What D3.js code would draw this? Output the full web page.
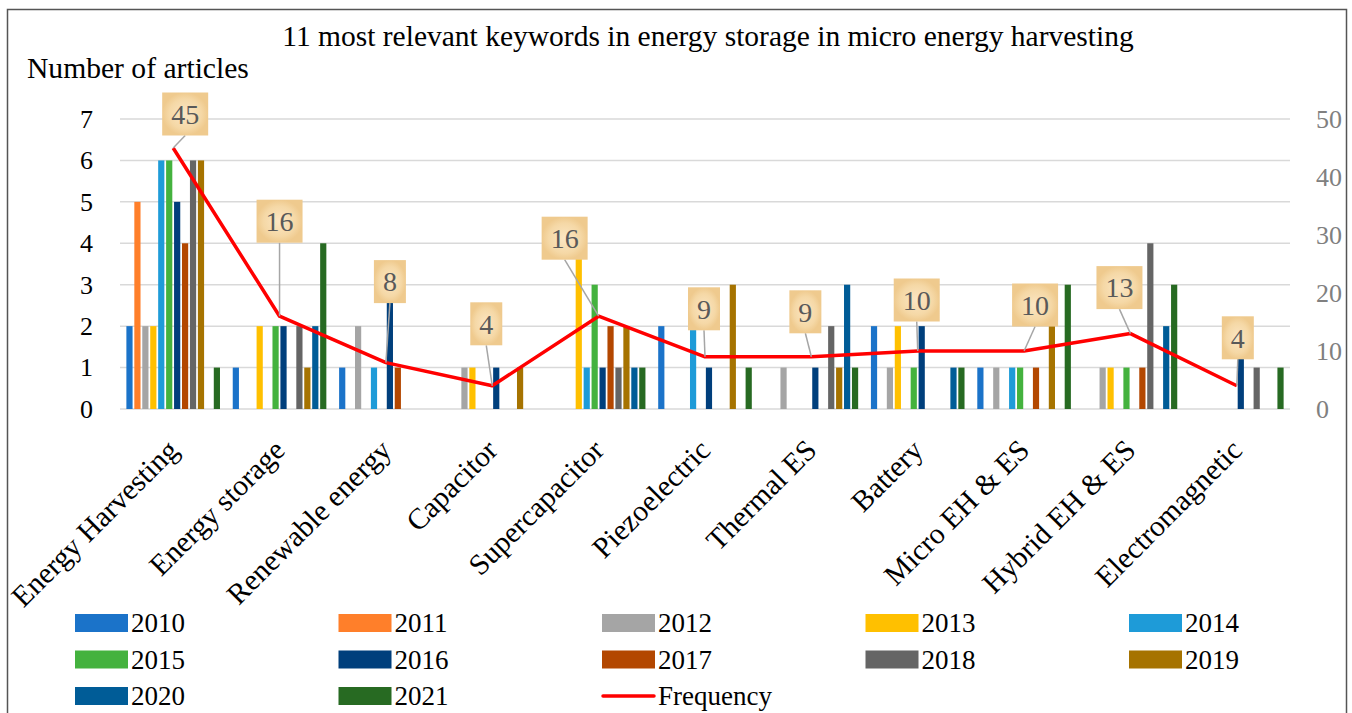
<!DOCTYPE html>
<html>
<head>
<meta charset="utf-8">
<script src="https://cdn.jsdelivr.net/npm/d3@7/dist/d3.min.js"></script>
<style>
  html, body { margin: 0; padding: 0; background: #fff; }
  svg { display: block; }
  text { font-family: "Liberation Serif", "Times New Roman", serif; }
</style>
</head>
<body>
<div id="chart"></div>
<script>
// categories and series
var keywords = ['Energy Harvesting', 'Energy storage', 'Renewable energy', 'Capacitor', 'Supercapacitor',
  'Piezoelectric', 'Thermal ES', 'Battery', 'Micro EH & ES', 'Hybrid EH & ES', 'Electromagnetic'];
var years = ['2010', '2011', '2012', '2013', '2014', '2015', '2016', '2017', '2018', '2019', '2020', '2021'];

// articles per year, one row per keyword (2010 .. 2021)
var articles = [
  [2, 5, 2, 2, 6, 6, 5, 4, 6, 6, 0, 1],
  [1, 0, 0, 2, 0, 2, 2, 0, 2, 1, 2, 4],
  [1, 0, 2, 0, 1, 0, 3, 1, 0, 0, 0, 0],
  [0, 0, 1, 1, 0, 0, 1, 0, 0, 1, 0, 0],
  [0, 0, 0, 4, 1, 3, 1, 2, 1, 2, 1, 1],
  [2, 0, 0, 0, 2, 0, 1, 0, 0, 3, 0, 1],
  [0, 0, 1, 0, 0, 0, 1, 0, 2, 1, 3, 1],
  [2, 0, 1, 2, 0, 1, 2, 0, 0, 0, 1, 1],
  [1, 0, 1, 0, 1, 1, 0, 1, 0, 2, 0, 3],
  [0, 0, 1, 1, 0, 1, 0, 1, 4, 0, 2, 3],
  [0, 0, 0, 0, 0, 0, 2, 0, 1, 0, 0, 1]
];
var frequency = [45, 16, 8, 4, 16, 9, 9, 10, 10, 13, 4];

var leftTicks = [0, 1, 2, 3, 4, 5, 6, 7];
var rightTicks = [0, 10, 20, 30, 40, 50];

var yearColors = ['#1b73c9', '#ff7f2a', '#a5a5a5', '#ffc000', '#1e9bd8', '#44b23e',
  '#003f7c', '#b34700', '#656565', '#a67300', '#005c97', '#276a22'];

// where each data label box sits relative to its point (px)
var labelNudge = [[12, -34], [0, -95], [4, -81], [-6, -62], [-34, -78], [-1, -48],
  [-6, -45], [-1, -51], [11, -46], [-11, -46], [1, -48]];

var width = 1352, height = 713;
var plot = { left: 120, right: 1290, top: 119, bottom: 409 };

var svg = d3.select('#chart').append('svg')
  .attr('width', width)
  .attr('height', height);

var defs = svg.append('defs');
var grad = defs.append('radialGradient').attr('id', 'paper');
grad.append('stop').attr('offset', '0%').attr('stop-color', '#fbe6c4');
grad.append('stop').attr('offset', '70%').attr('stop-color', '#f5d8a6');
grad.append('stop').attr('offset', '100%').attr('stop-color', '#efca8e');

svg.append('rect')
  .attr('x', 7.5).attr('y', 9.5)
  .attr('width', 1339).attr('height', 720)
  .attr('fill', '#fff')
  .attr('stroke', '#555')
  .attr('stroke-width', 1.5);

var x0 = d3.scaleBand().domain(keywords)
  .range([plot.left, plot.right])
  .paddingInner(0.12).paddingOuter(0.06);
var x1 = d3.scaleBand().domain(years)
  .range([0, x0.bandwidth()])
  .paddingInner(0.22);
var y = d3.scaleLinear().domain([0, 7]).range([plot.bottom, plot.top]);
var yR = d3.scaleLinear().domain([0, 50]).range([plot.bottom, plot.top]);

// gridlines
svg.append('g')
  .selectAll('line').data(leftTicks).join('line')
  .attr('x1', plot.left).attr('x2', plot.right)
  .attr('y1', d => y(d)).attr('y2', d => y(d))
  .attr('stroke', '#d9d9d9').attr('stroke-width', 1.5);

// left axis
var axisL = svg.append('g')
  .attr('transform', 'translate(' + (plot.left - 27) + ',0)')
  .call(d3.axisLeft(y).tickValues(leftTicks).tickSize(0).tickPadding(0).tickFormat(d3.format('d')));
axisL.select('.domain').remove();
axisL.selectAll('text')
  .attr('font-size', 26).attr('fill', '#000')
  .style('font-family', '"Liberation Serif", serif');

// right axis
var axisR = svg.append('g')
  .attr('transform', 'translate(' + (plot.right + 26) + ',0)')
  .call(d3.axisRight(yR).tickValues(rightTicks).tickSize(0).tickPadding(0).tickFormat(d3.format('d')));
axisR.select('.domain').remove();
axisR.selectAll('text')
  .attr('font-size', 26).attr('fill', '#808080')
  .style('font-family', '"Liberation Serif", serif');

// bars
var groups = svg.append('g').selectAll('g').data(keywords).join('g')
  .attr('transform', d => 'translate(' + x0(d) + ',0)');
groups.selectAll('rect')
  .data((d, i) => articles[i].map((v, j) => ({ year: years[j], value: v, k: j })))
  .join('rect')
  .filter(d => d.value > 0)
  .attr('x', d => x1(d.year))
  .attr('width', x1.bandwidth())
  .attr('y', d => y(d.value))
  .attr('height', d => y(0) - y(d.value))
  .attr('fill', d => yearColors[d.k]);

// frequency line
var cx = d => x0(d) + x0.bandwidth() / 2;
var pts = keywords.map((k, i) => [cx(k), yR(frequency[i])]);
svg.append('path')
  .datum(pts)
  .attr('d', d3.line())
  .attr('fill', 'none')
  .attr('stroke', '#ff0000')
  .attr('stroke-width', 3.5)
  .attr('stroke-linejoin', 'round');

// data labels with leader lines
var labels = svg.append('g').selectAll('g').data(frequency).join('g');
labels.each(function (f, i) {
  var g = d3.select(this);
  var px = pts[i][0], py = pts[i][1];
  var bx = px + labelNudge[i][0], by = py + labelNudge[i][1];
  var bw = String(f).length > 1 ? 46 : 32, bh = 43;
  g.append('line')
    .attr('x1', bx).attr('y1', by + bh / 2)
    .attr('x2', px).attr('y2', py)
    .attr('stroke', '#a6a6a6').attr('stroke-width', 1.5);
  g.append('rect')
    .attr('x', bx - bw / 2).attr('y', by - bh / 2)
    .attr('width', bw).attr('height', bh)
    .attr('fill', 'url(#paper)');
  g.append('text')
    .attr('x', bx).attr('y', by)
    .attr('dy', '0.35em')
    .attr('text-anchor', 'middle')
    .attr('font-size', 28)
    .attr('fill', '#595959')
    .text(f);
});

// category labels
svg.append('g').selectAll('text').data(keywords).join('text')
  .attr('transform', d => 'translate(' + (cx(d) + 7) + ',452) rotate(-45)')
  .attr('text-anchor', 'end')
  .attr('font-size', 29.5)
  .attr('fill', '#000')
  .text(d => d);

// titles
svg.append('text')
  .attr('x', 708).attr('y', 46)
  .attr('text-anchor', 'middle')
  .attr('font-size', 29.5)
  .text('11 most relevant keywords in energy storage in micro energy harvesting');
svg.append('text')
  .attr('x', 27).attr('y', 78)
  .attr('font-size', 29.6)
  .text('Number of articles');

// legend
var legendItems = years.map((yr, i) => ({ name: yr, color: yearColors[i], type: 'bar' }))
  .concat([{ name: 'Frequency', color: '#ff0000', type: 'line' }]);
var legend = svg.append('g').selectAll('g').data(legendItems).join('g')
  .attr('transform', (d, i) => 'translate(' + (75 + (i % 5) * 263.5) + ',' + (623 + Math.floor(i / 5) * 36.5) + ')');
legend.filter(d => d.type === 'bar').append('rect')
  .attr('x', 0).attr('y', -9).attr('width', 53).attr('height', 18)
  .attr('fill', d => d.color);
legend.filter(d => d.type === 'line').append('line')
  .attr('x1', 1).attr('x2', 52).attr('y1', 0).attr('y2', 0)
  .attr('stroke', d => d.color).attr('stroke-width', 3.5).attr('stroke-linecap', 'round');
legend.append('text')
  .attr('x', 56).attr('dy', '0.35em')
  .attr('font-size', 27)
  .text(d => d.name);
</script>
</body>
</html>
